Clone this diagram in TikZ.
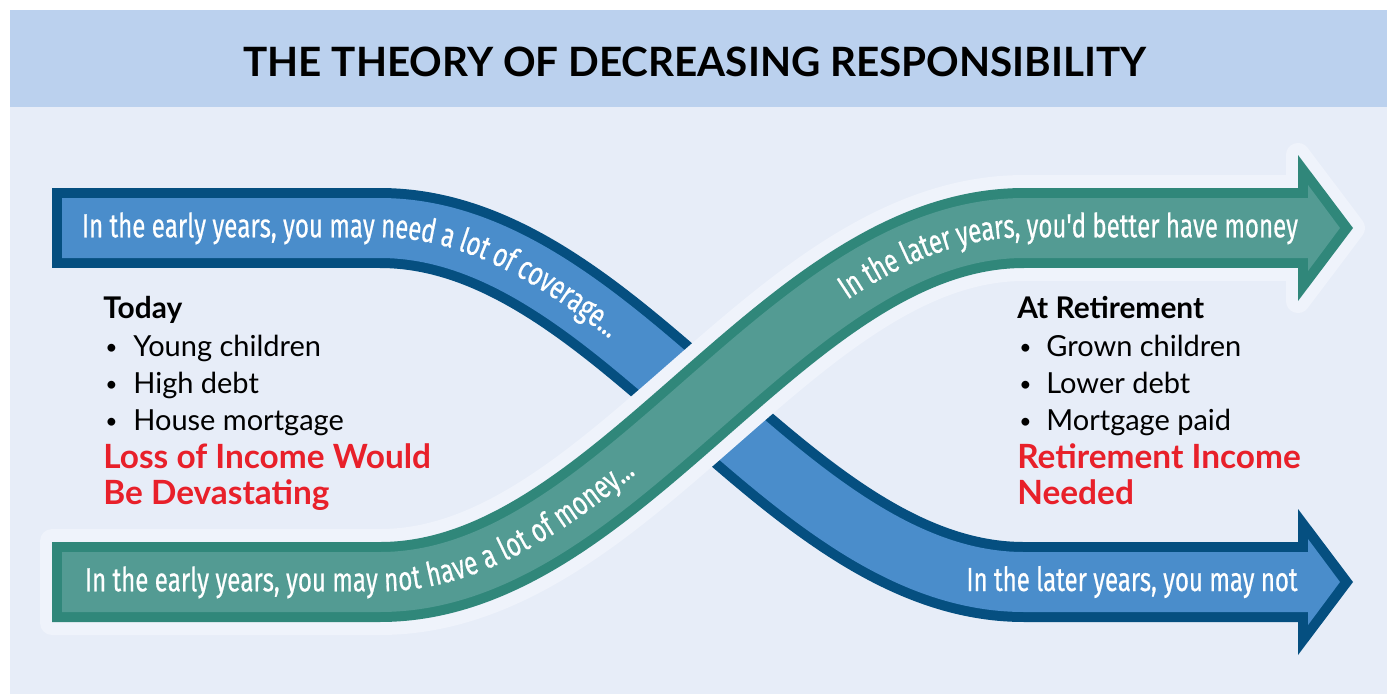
\documentclass[tikz,border=0pt]{standalone}
\usepackage{fontspec}
\setmainfont{Lato}
\newfontfamily\arrowfont[FakeStretch=0.72, FakeBold=0.5]{Fira Sans}
\usetikzlibrary{decorations.text}
\definecolor{titlebar}{RGB}{187, 209, 238}
\definecolor{panel}{RGB}{231, 237, 248}
\definecolor{halo}{RGB}{239, 243, 251}
\definecolor{bluedark}{RGB}{5, 79, 128}
\definecolor{bluelight}{RGB}{74, 141, 203}
\definecolor{greendark}{RGB}{48, 135, 122}
\definecolor{greenlight}{RGB}{83, 155, 147}
\definecolor{alertred}{RGB}{232, 32, 42}

\tikzset{
  shaftdark/.style={line width=1.6cm},
  shaftlight/.style={line width=1.2cm},
  shafthalo/.style={draw=halo, line width=2.12cm},
  arrowtext/.style={decorate, decoration={text along path, text color=white, raise=-5.3pt}},
  titletext/.style={anchor=base, inner sep=0pt, font=\bfseries\fontsize{23}{26}\selectfont},
  heading/.style={anchor=base west, inner sep=0pt, font=\bfseries\fontsize{17}{20}\selectfont},
  listitem/.style={anchor=base west, inner sep=0pt, font=\fontsize{16.5}{19}\selectfont},
  bulletmark/.style={anchor=base west, inner sep=0pt, font=\fontsize{12}{14}\selectfont},
  alert/.style={anchor=base west, inner sep=0pt, text=alertred, font=\bfseries\fontsize{19}{22}\selectfont}
}

\begin{document}
\begin{tikzpicture}[x=0.02cm, y=-0.02cm]
        \useasboundingbox (0,0) rectangle (1387,694);

        % Backdrop and title bar
        \fill[white] (0,0) rectangle (1387,694);
        \fill[panel] (10,10) rectangle (1387,694);
        \fill[titlebar] (10,10) rectangle (1387,107);
        \node[titletext] (title) at (695,76) {THE THEORY OF DECREASING RESPONSIBILITY};

        % Points of the blue arrow (coverage)
        \coordinate (b0) at (52,228);
        \coordinate (b0i) at (62,228);
        \coordinate (b1) at (380,228);
        \coordinate (bc1) at (620,228);
        \coordinate (bc2) at (784,582);
        \coordinate (b2) at (1024,582);
        \coordinate (b3) at (1300,582);
        \coordinate (b3i) at (1310,582);

        % Points of the green arrow (money)
        \coordinate (g0) at (52,582);
        \coordinate (g0i) at (62,582);
        \coordinate (g1) at (380,582);
        \coordinate (gc1) at (620,582);
        \coordinate (gc2) at (784,228);
        \coordinate (g2) at (1024,228);
        \coordinate (g3) at (1300,228);
        \coordinate (g3i) at (1310,228);

        % Blue arrow
        \draw[bluedark, shaftdark] (b0) -- (b1) .. controls (bc1) and (bc2) .. (b2) -- (b3);
        \fill[bluedark] (1298,509) -- (1353,582) -- (1298,655) -- cycle;
        \draw[bluelight, shaftlight] (b0i) -- (b1) .. controls (bc1) and (bc2) .. (b2) -- (b3i);
        \fill[bluelight] (1308,539) -- (1340,582) -- (1308,625) -- cycle;

        % Green arrow, with a pale halo that cuts the blue one
        \fill[halo, rounded corners=0.24cm] (40,529) rectangle (80,635);
        \draw[shafthalo] (g0) -- (g1) .. controls (gc1) and (gc2) .. (g2) -- (g3);
        \filldraw[halo, line width=0.48cm, line join=round] (1298,155) -- (1353,228) -- (1298,301) -- cycle;
        \draw[greendark, shaftdark] (g0) -- (g1) .. controls (gc1) and (gc2) .. (g2) -- (g3);
        \fill[greendark] (1298,155) -- (1353,228) -- (1298,301) -- cycle;
        \draw[greenlight, shaftlight] (g0i) -- (g1) .. controls (gc1) and (gc2) .. (g2) -- (g3i);
        \fill[greenlight] (1308,185) -- (1340,228) -- (1308,271) -- cycle;

        % Text riding on the arrows
        \path[arrowtext, decoration={text align={left indent=0.6cm},
          text={|\arrowfont\fontsize{19}{21}\selectfont|In the early years, you may need a lot of coverage...}}]
          (b0) -- (b1) .. controls (bc1) and (bc2) .. (b2) -- (b3);
        \node[anchor=base east, inner sep=0pt, text=white, font=\arrowfont\fontsize{19}{21}\selectfont]
          (latenot) at (1298,591) {In the later years, you may not};
        \path[arrowtext, decoration={text align={left indent=0.66cm},
          text={|\arrowfont\fontsize{19}{21}\selectfont|In the early years, you may not have a lot of money...}}]
          (g0) -- (g1) .. controls (gc1) and (gc2) .. (g2) -- (g3);
        \path[arrowtext, decoration={text align={right, right indent=0.04cm},
          text={|\arrowfont\fontsize{19}{21}\selectfont|In the later years, you'd better have money}}]
          (g0) -- (g1) .. controls (gc1) and (gc2) .. (g2) -- (g3);

        % Left block: today
        \node[heading] (today) at (103,318) {Today};
        \node[bulletmark] (todayb1) at (105,354) {\textbullet};
        \node[listitem] (todayt1) at (133,356) {Young children};
        \node[bulletmark] (todayb2) at (105,391) {\textbullet};
        \node[listitem] (todayt2) at (133,393) {High debt};
        \node[bulletmark] (todayb3) at (105,428) {\textbullet};
        \node[listitem] (todayt3) at (133,430) {House mortgage};
        \node[alert] (loss) at (103,468) {Loss of Income Would};
        \node[alert] (devast) at (103,504) {Be Devastating};

        % Right block: at retirement
        \node[heading] (retire) at (1017,318) {At Retirement};
        \node[bulletmark] (retireb1) at (1019,354) {\textbullet};
        \node[listitem] (retiret1) at (1046,356) {Grown children};
        \node[bulletmark] (retireb2) at (1019,391) {\textbullet};
        \node[listitem] (retiret2) at (1046,393) {Lower debt};
        \node[bulletmark] (retireb3) at (1019,428) {\textbullet};
        \node[listitem] (retiret3) at (1046,430) {Mortgage paid};
        \node[alert] (income) at (1017,468) {Retirement Income};
        \node[alert] (needed) at (1017,504) {Needed};
\end{tikzpicture}
\end{document}
